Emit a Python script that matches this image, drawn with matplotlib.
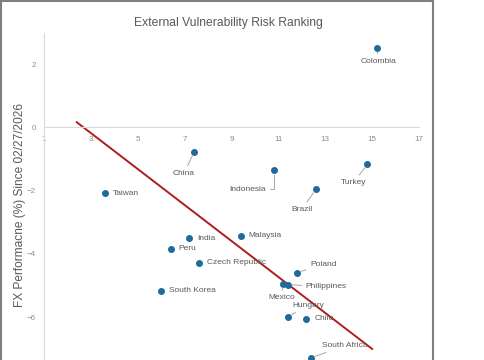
import matplotlib.pyplot as plt
from matplotlib.patches import Rectangle

plt.rcParams['font.family'] = ['Liberation Sans', 'DejaVu Sans']

countries = ['Colombia', 'China', 'Taiwan', 'Indonesia', 'Brazil', 'Turkey',
             'Malaysia', 'India', 'Peru', 'Czech Republic', 'South Korea',
             'Poland', 'Mexico', 'Philippines', 'Hungary', 'Chile', 'South Africa']
risk_rank = [15.2, 7.4, 3.6, 10.8, 12.6, 14.8,
             9.4, 7.2, 6.4, 7.6, 6.0,
             11.8, 11.2, 11.4, 11.4, 12.2, 12.4]
fx_perf = [2.5, -0.79, -2.09, -1.36, -1.96, -1.17,
           -3.42, -3.51, -3.83, -4.27, -5.16,
           -4.59, -4.94, -4.97, -5.98, -6.04, -7.28]

# label offsets in pixels (dx, dy), alignment, leader line
label_pos = {
    'Colombia': (2, -13, 'center', True),
    'China': (-10, -21, 'center', True),
    'Taiwan': (8, 0, 'left', False),
    'Indonesia': (-8, -19, 'right', True),
    'Brazil': (-14, -20, 'center', True),
    'Turkey': (-14, -18, 'center', True),
    'Malaysia': (8, 0, 'left', False),
    'India': (8, 0, 'left', False),
    'Peru': (8, 0, 'left', False),
    'Czech Republic': (8, 0, 'left', False),
    'South Korea': (8, 0, 'left', False),
    'Poland': (13, 8, 'left', True),
    'Mexico': (-1, -14, 'center', True),
    'Philippines': (18, -2, 'left', True),
    'Hungary': (21, 11, 'center', True),
    'Chile': (8, 0, 'left', False),
    'South Africa': (11, 12, 'left', True),
}

trend_x = [2.4, 15.0]
trend_y = [0.16, -7.0]

x_ticks = [1, 3, 5, 7, 9, 11, 13, 15, 17]
y_ticks = [2, 0, -2, -4, -6]

fig = plt.figure(figsize=(4.85, 3.6), dpi=100)
ax = fig.add_axes([44 / 485, 0, (419 - 44) / 485, 327 / 360])

# outer chart frame
fig.patches.append(Rectangle((1 / 485, -0.1), 432 / 485, 1.1 - 1 / 360,
                             transform=fig.transFigure, fill=False,
                             edgecolor='#7f7f7f', linewidth=1.5))

ax.plot(trend_x, trend_y, color='#b01c1c', linewidth=1.4, zorder=2)
ax.scatter(risk_rank, fx_perf, s=16, color='#1f6a9e', zorder=3)

for name, x, y in zip(countries, risk_rank, fx_perf):
    dx, dy, ha, leader = label_pos[name]
    props = None
    if leader:
        props = dict(arrowstyle='-', color='#a6a6a6', linewidth=0.7,
                     shrinkA=1, shrinkB=3)
        if name == 'Indonesia':
            props['connectionstyle'] = 'angle,angleA=0,angleB=90,rad=0'
    ax.annotate(name, (x, y), xytext=(dx, dy), textcoords='offset pixels',
                ha=ha, va='center', fontsize=6, color='#595959',
                arrowprops=props, zorder=4)

ax.set_xlim(1, 17)
ax.set_ylim(-7.35, 2.98)
ax.set_xticks(x_ticks)
ax.set_yticks(y_ticks)
ax.tick_params(length=0, labelsize=5.8, colors='#8c8c8c')
ax.tick_params(axis='x', pad=6)
ax.tick_params(axis='y', pad=6)

ax.spines['bottom'].set_position(('data', 0))
ax.spines['bottom'].set_color('#d9d9d9')
ax.spines['left'].set_color('#d9d9d9')
ax.spines['top'].set_visible(False)
ax.spines['right'].set_visible(False)

fig.text(228 / 485, 1 - 23 / 360, 'External Vulnerability Risk Ranking',
         ha='center', va='center', fontsize=8.7, color='#595959')
fig.text(20 / 485, 1 - 205 / 360, 'FX Performacne (%) Since 02/27/2026',
         ha='center', va='center', rotation=90, fontsize=8.6, color='#595959')

fig.savefig('out.png', dpi=100)
